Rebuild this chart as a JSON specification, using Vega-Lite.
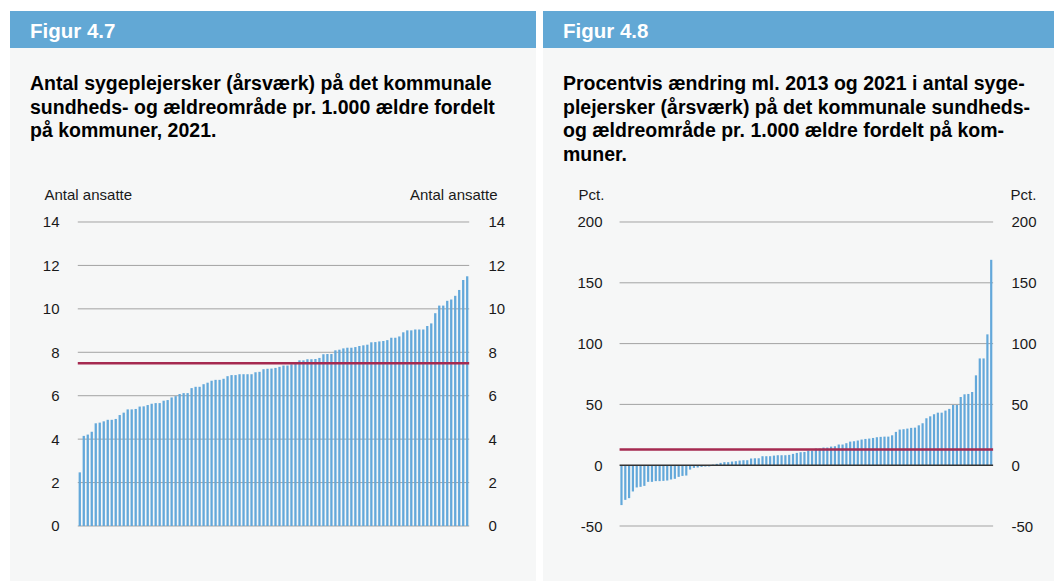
{
  "$schema": "https://vega.github.io/schema/vega-lite/v6.json",
  "background": "#ffffff",
  "padding": {"left": 10, "top": 11, "right": 0, "bottom": 0},
  "spacing": 7,
  "config": {
    "view": {"stroke": null},
    "font": "Liberation Sans",
    "axis": {
      "domain": false, "ticks": false, "tickSize": 0, "grid": false,
      "labelFont": "Liberation Sans", "labelFontSize": 15, "labelColor": "#1a1a1a",
      "titleFont": "Liberation Sans", "titleFontSize": 15, "titleFontWeight": "normal", "titleColor": "#1a1a1a",
      "titleAngle": 0, "titleBaseline": "alphabetic", "labelExpr": "'' + datum.value"
    }
  },
  "datasets": {
    "left": [
      {"i":0,"v":2.47},{"i":1,"v":4.15},{"i":2,"v":4.21},{"i":3,"v":4.34},{"i":4,"v":4.73},{"i":5,"v":4.76},{"i":6,"v":4.82},{"i":7,"v":4.89},{"i":8,"v":4.89},{"i":9,"v":4.93},
      {"i":10,"v":5.11},{"i":11,"v":5.22},{"i":12,"v":5.37},{"i":13,"v":5.37},{"i":14,"v":5.39},{"i":15,"v":5.50},{"i":16,"v":5.51},{"i":17,"v":5.57},{"i":18,"v":5.63},{"i":19,"v":5.66},
      {"i":20,"v":5.66},{"i":21,"v":5.77},{"i":22,"v":5.80},{"i":23,"v":5.92},{"i":24,"v":5.98},{"i":25,"v":6.08},{"i":26,"v":6.12},{"i":27,"v":6.12},{"i":28,"v":6.35},{"i":29,"v":6.41},
      {"i":30,"v":6.41},{"i":31,"v":6.53},{"i":32,"v":6.60},{"i":33,"v":6.69},{"i":34,"v":6.73},{"i":35,"v":6.73},{"i":36,"v":6.78},{"i":37,"v":6.90},{"i":38,"v":6.95},{"i":39,"v":6.95},
      {"i":40,"v":6.99},{"i":41,"v":6.99},{"i":42,"v":6.99},{"i":43,"v":6.99},{"i":44,"v":7.08},{"i":45,"v":7.10},{"i":46,"v":7.22},{"i":47,"v":7.24},{"i":48,"v":7.25},{"i":49,"v":7.28},
      {"i":50,"v":7.33},{"i":51,"v":7.39},{"i":52,"v":7.39},{"i":53,"v":7.45},{"i":54,"v":7.47},{"i":55,"v":7.63},{"i":56,"v":7.63},{"i":57,"v":7.68},{"i":58,"v":7.68},{"i":59,"v":7.69},
      {"i":60,"v":7.74},{"i":61,"v":7.91},{"i":62,"v":7.92},{"i":63,"v":7.92},{"i":64,"v":8.09},{"i":65,"v":8.12},{"i":66,"v":8.18},{"i":67,"v":8.21},{"i":68,"v":8.21},{"i":69,"v":8.24},
      {"i":70,"v":8.29},{"i":71,"v":8.32},{"i":72,"v":8.35},{"i":73,"v":8.46},{"i":74,"v":8.47},{"i":75,"v":8.50},{"i":76,"v":8.52},{"i":77,"v":8.56},{"i":78,"v":8.67},{"i":79,"v":8.67},
      {"i":80,"v":8.73},{"i":81,"v":8.92},{"i":82,"v":9.01},{"i":83,"v":9.01},{"i":84,"v":9.05},{"i":85,"v":9.05},{"i":86,"v":9.05},{"i":87,"v":9.21},{"i":88,"v":9.33},{"i":89,"v":9.80},
      {"i":90,"v":10.15},{"i":91,"v":10.15},{"i":92,"v":10.37},{"i":93,"v":10.43},{"i":94,"v":10.60},{"i":95,"v":10.87},{"i":96,"v":11.33},{"i":97,"v":11.50}
    ],
    "right": [
      {"i":0,"v":-32.8},{"i":1,"v":-28.5},{"i":2,"v":-27.1},{"i":3,"v":-21.6},{"i":4,"v":-18.3},{"i":5,"v":-17.8},{"i":6,"v":-17.0},{"i":7,"v":-13.7},{"i":8,"v":-13.7},{"i":9,"v":-13.1},
      {"i":10,"v":-13.1},{"i":11,"v":-12.9},{"i":12,"v":-12.6},{"i":13,"v":-11.8},{"i":14,"v":-11.2},{"i":15,"v":-9.6},{"i":16,"v":-8.8},{"i":17,"v":-8.5},{"i":18,"v":-3.6},{"i":19,"v":-2.2},
      {"i":20,"v":-1.9},{"i":21,"v":-1.4},{"i":22,"v":-1.1},{"i":23,"v":-1.0},{"i":24,"v":0.5},{"i":25,"v":1.1},{"i":26,"v":1.9},{"i":27,"v":2.5},{"i":28,"v":2.5},{"i":29,"v":3.0},
      {"i":30,"v":3.3},{"i":31,"v":3.8},{"i":32,"v":4.1},{"i":33,"v":4.1},{"i":34,"v":5.5},{"i":35,"v":5.7},{"i":36,"v":5.7},{"i":37,"v":7.4},{"i":38,"v":7.4},{"i":39,"v":7.4},
      {"i":40,"v":7.9},{"i":41,"v":8.2},{"i":42,"v":8.2},{"i":43,"v":8.2},{"i":44,"v":8.5},{"i":45,"v":9.3},{"i":46,"v":10.1},{"i":47,"v":10.7},{"i":48,"v":10.9},{"i":49,"v":12.0},
      {"i":50,"v":12.0},{"i":51,"v":13.7},{"i":52,"v":13.7},{"i":53,"v":14.5},{"i":54,"v":14.5},{"i":55,"v":15.3},{"i":56,"v":15.6},{"i":57,"v":17.0},{"i":58,"v":17.0},{"i":59,"v":18.1},
      {"i":60,"v":19.4},{"i":61,"v":19.7},{"i":62,"v":20.3},{"i":63,"v":21.1},{"i":64,"v":21.6},{"i":65,"v":21.9},{"i":66,"v":22.4},{"i":67,"v":23.0},{"i":68,"v":23.3},{"i":69,"v":23.5},
      {"i":70,"v":23.5},{"i":71,"v":24.6},{"i":72,"v":27.4},{"i":73,"v":29.3},{"i":74,"v":29.6},{"i":75,"v":30.1},{"i":76,"v":30.7},{"i":77,"v":30.9},{"i":78,"v":32.8},{"i":79,"v":34.5},
      {"i":80,"v":38.6},{"i":81,"v":40.2},{"i":82,"v":41.9},{"i":83,"v":43.2},{"i":84,"v":43.2},{"i":85,"v":44.9},{"i":86,"v":46.3},{"i":87,"v":49.5},{"i":88,"v":49.5},{"i":89,"v":56.1},
      {"i":90,"v":58.3},{"i":91,"v":58.6},{"i":92,"v":60.2},{"i":93,"v":73.9},{"i":94,"v":87.8},{"i":95,"v":87.8},{"i":96,"v":107.6},{"i":97,"v":168.9}
    ]
  },
  "hconcat": [
    {
      "spacing": 0,
      "vconcat": [
        {
          "width": 526, "height": 37,
          "view": {"fill": "#62a8d5", "stroke": null},
          "data": {"values": [{"label": "Figur 4.7"}]},
          "mark": {"type": "text", "align": "left", "baseline": "middle", "dx": 20, "dy": 2, "font": "Liberation Sans", "fontSize": 20.5, "fontWeight": "bold", "color": "#ffffff"},
          "encoding": {
            "x": {"field": "label", "type": "nominal", "axis": null, "scale": {"type": "point", "padding": 0, "align": 0}},
            "text": {"field": "label"}
          }
        },
        {
          "width": 526, "height": 533,
          "view": {"fill": "#f6f7f7", "stroke": null},
          "title": {
            "text": ["Antal sygeplejersker (årsværk) på det kommunale", "sundheds- og ældreområde pr. 1.000 ældre fordelt", "på kommuner, 2021."],
            "anchor": "start", "frame": "group", "offset": -108.5, "dx": 20, "baseline": "alphabetic",
            "font": "Liberation Sans", "fontSize": 19.5, "fontWeight": "bold", "lineHeight": 23.5, "color": "#000000"
          },
          "resolve": {"axis": {"y": "independent"}},
          "layer": [
            {
              "data": {"values": [{"g":0},{"g":2},{"g":4},{"g":6},{"g":8},{"g":10},{"g":12},{"g":14}]},
              "mark": {"type": "rule", "color": "#a3a3a3", "strokeWidth": 1},
              "encoding": {
                "x": {"datum": -0.5, "type": "quantitative", "scale": {"domain": [-16.219, 112.974], "nice": false, "zero": false}, "axis": null},
                "x2": {"datum": 97.5},
                "y": {"field": "g", "type": "quantitative", "scale": {"domain": [-2.533, 22.013], "nice": false, "zero": false},
                  "axis": {"orient": "right", "offset": -63, "values": [0,2,4,6,8,10,12,14], "labelPadding": 15, "title": "Antal ansatte", "titleAlign": "right", "titleX": 24, "titleY": 151}}
              }
            },
            {
              "data": {"name": "left"},
              "mark": {"type": "bar", "orient": "vertical", "width": 2.3, "color": "#63a8da"},
              "encoding": {
                "x": {"field": "i", "type": "quantitative", "scale": {"domain": [-16.219, 112.974], "nice": false, "zero": false}, "axis": null},
                "y": {"field": "v", "type": "quantitative", "scale": {"domain": [-2.533, 22.013], "nice": false, "zero": false},
                  "axis": {"orient": "left", "offset": -64, "values": [0,2,4,6,8,10,12,14], "labelPadding": 15, "title": "Antal ansatte", "titleAlign": "left", "titleX": -30, "titleY": 151}}
              }
            },
            {
              "data": {"values": [{"avg": 7.5}]},
              "mark": {"type": "rule", "color": "#a52a50", "strokeWidth": 2.5},
              "encoding": {
                "x": {"datum": -0.5, "type": "quantitative"},
                "x2": {"datum": 97.5},
                "y": {"field": "avg", "type": "quantitative", "axis": null}
              }
            }
          ]
        }
      ]
    },
    {
      "spacing": 0,
      "vconcat": [
        {
          "width": 511, "height": 37,
          "view": {"fill": "#62a8d5", "stroke": null},
          "data": {"values": [{"label": "Figur 4.8"}]},
          "mark": {"type": "text", "align": "left", "baseline": "middle", "dx": 20, "dy": 2, "font": "Liberation Sans", "fontSize": 20.5, "fontWeight": "bold", "color": "#ffffff"},
          "encoding": {
            "x": {"field": "label", "type": "nominal", "axis": null, "scale": {"type": "point", "padding": 0, "align": 0}},
            "text": {"field": "label"}
          }
        },
        {
          "width": 511, "height": 533,
          "view": {"fill": "#f6f7f7", "stroke": null},
          "title": {
            "text": ["Procentvis ændring ml. 2013 og 2021 i antal syge-", "plejersker (årsværk) på det kommunale sundheds-", "og ældreområde pr. 1.000 ældre fordelt på kom-", "muner."],
            "anchor": "start", "frame": "group", "offset": -132, "dx": 20, "baseline": "alphabetic",
            "font": "Liberation Sans", "fontSize": 19.5, "fontWeight": "bold", "lineHeight": 23.5, "color": "#000000"
          },
          "resolve": {"axis": {"y": "independent"}},
          "layer": [
            {
              "data": {"values": [{"g":-50},{"g":50},{"g":100},{"g":150},{"g":200}]},
              "mark": {"type": "rule", "color": "#a3a3a3", "strokeWidth": 1},
              "encoding": {
                "x": {"datum": -0.5, "type": "quantitative", "scale": {"domain": [-19.277, 112.161], "nice": false, "zero": false}, "axis": null},
                "x2": {"datum": 97.5},
                "y": {"field": "g", "type": "quantitative", "scale": {"domain": [-95.23, 343.09], "nice": false, "zero": false},
                  "axis": {"orient": "right", "offset": -57, "values": [-50,0,50,100,150,200], "labelPadding": 14, "title": "Pct.", "titleAlign": "left", "titleX": 13, "titleY": 151}}
              }
            },
            {
              "data": {"name": "right"},
              "mark": {"type": "bar", "orient": "vertical", "width": 2.2, "color": "#63a8da"},
              "encoding": {
                "x": {"field": "i", "type": "quantitative", "scale": {"domain": [-19.277, 112.161], "nice": false, "zero": false}, "axis": null},
                "y": {"field": "v", "type": "quantitative", "scale": {"domain": [-95.23, 343.09], "nice": false, "zero": false},
                  "axis": {"orient": "left", "offset": -73, "values": [-50,0,50,100,150,200], "labelPadding": 14, "title": "Pct.", "titleAlign": "left", "titleX": -38, "titleY": 151}}
              }
            },
            {
              "data": {"values": [{"avg": 12.9}]},
              "mark": {"type": "rule", "color": "#a52a50", "strokeWidth": 2.5},
              "encoding": {
                "x": {"datum": -0.5, "type": "quantitative"},
                "x2": {"datum": 97.5},
                "y": {"field": "avg", "type": "quantitative", "axis": null}
              }
            },
            {
              "data": {"values": [{"z": 0}]},
              "mark": {"type": "rule", "color": "#333333", "strokeWidth": 1.5},
              "encoding": {
                "x": {"datum": -0.5, "type": "quantitative"},
                "x2": {"datum": 97.5},
                "y": {"field": "z", "type": "quantitative", "axis": null}
              }
            }
          ]
        }
      ]
    }
  ]
}
